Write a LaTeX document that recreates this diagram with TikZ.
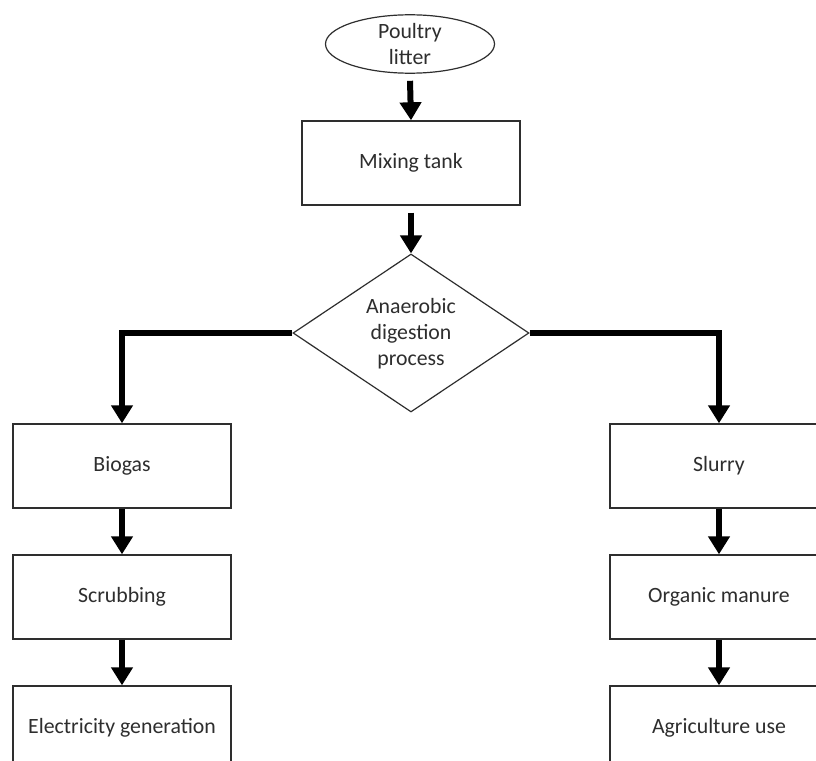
\documentclass[tikz,border=0pt]{standalone}
\usepackage{fontspec}
\setmainfont{Carlito}
\usetikzlibrary{shapes.geometric,arrows.meta}
\definecolor{ink}{HTML}{2E2E2E}
\begin{document}
\begin{tikzpicture}[x=1pt,y=-1pt,
  every node/.style={font=\fontsize{21.8}{26}\selectfont, text=ink},
  stepbox/.style={draw=ink, line width=1.4pt, rectangle, minimum width=218pt, minimum height=84pt, inner sep=0pt},
  startnode/.style={draw=ink, line width=1.2pt, ellipse, minimum width=169pt, minimum height=58pt, inner sep=0pt, align=center},
  decision/.style={draw=ink, line width=1.2pt, diamond, minimum width=236pt, minimum height=158pt, inner sep=0pt},
  flow/.style={line width=6pt, black, -{Triangle[width=21pt,length=18pt]}, line join=miter}
]
\useasboundingbox (0,0) rectangle (816,760);
\clip (0,0) rectangle (816,760);
\fill[white] (0,0) rectangle (816,760);

\node[startnode] (litter) at (410,44) {Poultry\\litter};
\node[stepbox] (mix) at (411,163) {Mixing tank};
\node[decision] (ad) at (411,333) {};
\node[align=center, inner sep=0pt] (adtext) at (411,334) {Anaerobic\\digestion\\process};

\node[stepbox] (biogas) at (122,466) {Biogas};
\node[stepbox] (scrub) at (122,597) {Scrubbing};
\node[stepbox] (elec) at (122,728) {Electricity generation};

\node[stepbox] (slurry) at (719,466) {Slurry};
\node[stepbox] (manure) at (719,597) {Organic manure};
\node[stepbox] (agri) at (719,728) {Agriculture use};

\draw[flow] ([yshift=-7pt]litter.south) -- (mix.north);
\draw[flow] ([yshift=-7pt]mix.south) -- (ad.north);
\draw[flow] (ad.west) -| (biogas.north);
\draw[flow] (ad.east) -| (slurry.north);
\draw[flow] (biogas.south) -- (scrub.north);
\draw[flow] (scrub.south) -- (elec.north);
\draw[flow] (slurry.south) -- (manure.north);
\draw[flow] (manure.south) -- (agri.north);
\end{tikzpicture}
\end{document}
